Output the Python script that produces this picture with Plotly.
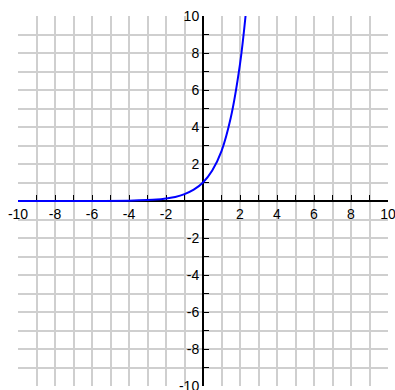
import plotly.graph_objects as go

# points
x_vals = [-10, -8, -6, -4, -3, -2.5, -2, -1.5, -1, -0.5, 0, 0.5, 1, 1.5, 2, 2.3]
y_vals = [0.0, 0.0, 0.0, 0.02, 0.05, 0.08, 0.14, 0.22, 0.37, 0.61, 1.0, 1.65, 2.7, 4.5, 7.4, 10.0]

tick_vals = [-10, -8, -6, -4, -2, 2, 4, 6, 8, 10]
tick_text = [str(v) for v in tick_vals]

grid_color = '#cfcfcf'

fig = go.Figure()
fig.add_trace(go.Scatter(
    x=x_vals, y=y_vals,
    mode='lines',
    line=dict(color='#0000ff', width=2, shape='spline'),
    hoverinfo='skip'
))

axis_style = dict(
    range=[-10, 10],
    tickmode='array',
    tickvals=tick_vals,
    ticktext=tick_text,
    ticks='inside',
    ticklen=5,
    tickwidth=1,
    tickcolor='black',
    showgrid=True,
    gridcolor=grid_color,
    gridwidth=1.5,
    zeroline=False,
    showline=True,
    linecolor='black',
    linewidth=2,
    anchor='free',
    position=0.5,
    automargin=False,
    ticklabeloverflow='allow',
    layer='below traces',
    tickfont=dict(family='Liberation Sans, Arial, sans-serif', size=14, color='black'),
    minor=dict(tickmode='linear', tick0=0, dtick=1, ticks='inside', ticklen=5,
               tickcolor='black', showgrid=True, gridcolor=grid_color, gridwidth=1.5),
    fixedrange=True,
)

fig.update_layout(
    width=395, height=390,
    margin=dict(l=18, r=7, t=16, b=4, autoexpand=False),
    paper_bgcolor='white',
    plot_bgcolor='white',
    showlegend=False,
    xaxis=dict(axis_style, side='bottom'),
    yaxis=dict(axis_style, side='left'),
)

# drop the default body margin so the chart sits at the window's corner
fig.write_html("out.html", config={'displayModeBar': False},
               post_script="document.body.style.margin='0';")
